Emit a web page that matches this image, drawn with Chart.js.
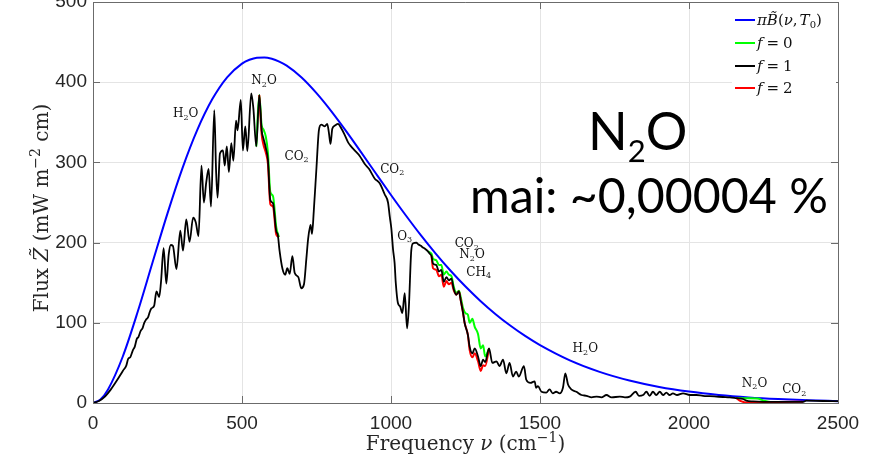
<!DOCTYPE html>
<html><head><meta charset="utf-8">
<script src="https://cdn.jsdelivr.net/npm/chart.js@4.4.1/dist/chart.umd.min.js"></script>
<style>html,body{margin:0;padding:0;background:#fff;overflow:hidden}canvas{display:block}</style>
</head><body>
<canvas id="c" width="872" height="469"></canvas>
<script>
// ---------- data ----------
const xTicks = [0, 500, 1000, 1500, 2000, 2500];
const yTicks = [0, 100, 200, 300, 400, 500];
const seriesNames = ['\u03c0B\u0303(\u03bd,T\u2080)', 'f = 0', 'f = 1', 'f = 2'];

// blue: pi*B(nu,T0)
const planckNu = [0,25,50,100,150,200,250,300,350,400,450,500,525,550,575,600,625,650,700,750,800,850,900,950,1000,1050,1100,1150,1200,1250,1300,1350,1400,1450,1500,1600,1700,1800,1900,2000,2100,2200,2300,2400,2500];
const planckFlux = [0,4.4,16.6,58,113.7,175.4,236.5,292.6,340.5,378.6,406.1,423.2,428.0,430.6,430.9,429.2,425.7,420.6,405.9,386.4,363.7,338.7,312.5,285.8,259.4,233.8,209.3,186.3,164.9,145.2,127.3,111.1,96.6,83.6,72.2,53.2,38.8,28.0,20.0,14.2,10.0,7.0,4.9,3.4,2.3];

// black: f = 1
const f1Nu = [0,20,40,60,80,100,112,118,125,134,140,147,152,160,166,172,178,185,190,196,205,213,222,228,237,246,254,261,268,280,293,302,313,324,336,345,354,364,372,380,388,396,407,413,418,426,436,442,449,456,464,471,480,485,496,503,511,518,531,538,548,558,566,572,580,587,595,604,615,620,626,636,645,652,660,669,677,689,699,708,716,722,730,735,741,750,758,766,778,786,792,797,803,812,822,834,845,856,866,878,895,912,926,945,962,979,990,996,1001,1007,1012,1016,1023,1031,1038,1046,1054,1060,1068,1074,1085,1091,1100,1107,1115,1124,1130,1136,1141,1152,1161,1169,1177,1186,1194,1203,1210,1219,1228,1234,1242,1247,1258,1264,1273,1281,1292,1301,1309,1316,1329,1340,1354,1364,1376,1387,1398,1409,1420,1429,1446,1454,1468,1482,1487,1493,1505,1521,1532,1543,1554,1566,1577,1585,1594,1605,1622,1639,1656,1673,1690,1706,1723,1740,1768,1785,1801,1821,1832,1846,1857,1868,1879,1890,1902,1913,1924,1935,1946,1960,1980,2003,2025,2047,2070,2092,2114,2137,2159,2181,2192,2215,2249,2300,2383,2394,2450,2500];
const f1Flux = [0,2.5,8,17,28,40,47,55,57,66,70,80,82,90,93,100,104,107,113,118,121,139,132,150,193,149,185,197,196,167,215,190,229,201,231,225,208,296,250,275,292,245,365,290,256,311,315,296,320,288,324,302,352,340,378,315,345,314,386,368,320,384,340,330,318,303,253,249,214,210,190,167,160,168,161,183,162,157,143,148,180,205,222,211,240,294,340,347,345,348,336,323,342,346,348,342,334,325,320,315,308,298,292,280,274,260,250,232,218,191,175,150,125,120,112,137,93,120,190,199,200,198,196,194,192,189,186,183,174,172,164,166,151,157,153,155,143,135,139,128,112,100,85,70,62,68,58,46,54,51,68,50,52,46,54,37,50,33,39,33,46,29,25,27,19,21,14,13,17,12,14,12,19,37,23,17,14,10,9,7,8,7,10,7,8,7,8,14,9,10,14,9,14,10,14,10,13,10,12,10,12,10,10,9,8.5,8,7.5,7,6,5,3,2,1.5,1.5,1.5,3,2.5,2.3];

// green: f = 0 (only where it departs from f = 1; null = gap)
const f0Nu = [548,558,566,572,580,587,595,604,615,624, 1090, 1124,1136,1141,1152,1161,1169,1177,1186,1194,1203,1210,1219,1228,1234,1242,1250,1258,1264,1273,1281,1292,1301,1309,1316,1329, 2000, 2159,2181,2200,2230,2250,2270];
const f0Flux = [320,384,346,341,332,312,263,258,219,207, null, 189,186,180,178,172,172,160,164,160,158,146,137,140,132,118,112,110,100,105,95,86,68,72,58,68, null, 6,6,6,5.5,3,1.6];

// red: f = 2
const f2Nu = [558,566,572,580,587,595,604,615,624, 1090, 1136,1141,1152,1161,1169,1177,1186,1194,1203,1210,1219,1228,1234,1242,1247,1258,1264,1273,1281,1292,1301,1309,1316,1329, 2000, 2159,2170,2185,2200,2250,2300,2383];
const f2Flux = [384,335,322,312,298,248,245,210,207, null, 183,168,166,158,160,145,152,148,150,141,135,139,128,112,100,85,66,57,62,52,40,47,46,68, null, 6,3,1,0.5,0.5,1.2,1.5];

// molecule annotations (frequency, flux)
const annText = ['H2O','N2O','CO2','CO2','O3','CO2','N2O','CH4','H2O','N2O','CO2'];
const annNu   = [311, 574, 683, 1004, 1046, 1254, 1272, 1294, 1652, 2220, 2353];
const annFlux = [362, 403, 309, 293, 209, 200, 186, 164, 69, 26, 18];

const bigTitle = 'N2O';
const bigSub = 'mai: ~0,00004 %';

// ---------- helpers ----------
const pts = (xs, ys) => xs.map((x, i) => ({x: x, y: ys[i]}));
const SERIF = '"DejaVu Serif", "Liberation Serif", serif';

function drawParts(ctx, parts, x, y, align) {
  let w = 0;
  parts.forEach(p => { ctx.font = p.f; w += ctx.measureText(p.t).width + (p.gap || 0); });
  let cx = align === 'center' ? x - w / 2 : (align === 'right' ? x - w : x);
  parts.forEach(p => {
    ctx.font = p.f;
    ctx.fillText(p.t, cx, y + (p.dy || 0));
    cx += ctx.measureText(p.t).width + (p.gap || 0);
  });
  return w;
}
function chemParts(s, size, family, subRatio, subDy) {
  return s.split('').map(ch => /[0-9]/.test(ch)
    ? {t: ch, f: Math.round(size * subRatio) + 'px ' + family, dy: size * subDy}
    : {t: ch, f: size + 'px ' + family});
}

const overlay = {
  id: 'overlay',
  afterDraw(chart) {
    const ctx = chart.ctx, a = chart.chartArea;
    const xs = chart.scales.x, ys = chart.scales.y;
    ctx.save();
    ctx.strokeStyle = '#6b6b6b'; ctx.lineWidth = 1;
    ctx.beginPath();
    ctx.moveTo(a.left, a.top + 0.5); ctx.lineTo(a.right + 0.5, a.top + 0.5); ctx.lineTo(a.right + 0.5, a.bottom);
    const tl = 7;
    xTicks.forEach(v => { const p = Math.round(xs.getPixelForValue(v)) + 0.5;
      ctx.moveTo(p, a.bottom); ctx.lineTo(p, a.bottom - tl);
      ctx.moveTo(p, a.top); ctx.lineTo(p, a.top + tl); });
    yTicks.forEach(v => { const p = Math.round(ys.getPixelForValue(v)) + 0.5;
      ctx.moveTo(a.left, p); ctx.lineTo(a.left + tl, p);
      ctx.moveTo(a.right, p); ctx.lineTo(a.right - tl, p); });
    ctx.stroke();

    ctx.fillStyle = '#111';
    ctx.textBaseline = 'alphabetic';
    annText.forEach((s, i) => {
      const px = xs.getPixelForValue(annNu[i]);
      const py = ys.getPixelForValue(annFlux[i]);
      drawParts(ctx, chemParts(s, 12, SERIF, 0.7, 2.5 / 12), px, py + 4.5, 'center');
    });

    const lx0 = 735, lx1 = 755, tx = 757, rowY = [20, 43, 66, 88];
    ctx.fillStyle = '#fff';
    ctx.fillRect(732, 6, 104, 95);
    chart.data.datasets.forEach(ds => {
      const y = rowY[ds.legendRow];
      ctx.strokeStyle = ds.borderColor; ctx.lineWidth = 2;
      ctx.beginPath(); ctx.moveTo(lx0, y); ctx.lineTo(lx1, y); ctx.stroke();
    });
    ctx.fillStyle = '#111';
    const it = 'italic 15px ' + SERIF, rm = '15px ' + SERIF;
    drawParts(ctx, [{t:'\u03c0', f: it}, {t:'B\u0303', f: it}, {t:'(', f: rm}, {t:'\u03bd', f: it}, {t:',', f: rm, gap: 2},
                    {t:'T', f: it}, {t:'0', f: '10px ' + SERIF, dy: 3}, {t:')', f: rm}], tx, rowY[0] + 5, 'left');
    ['0', '1', '2'].forEach((d, k) => {
      drawParts(ctx, [{t:'f', f: it, gap: 4}, {t:'=', f: rm, gap: 4}, {t: d, f: rm}], tx, rowY[k + 1] + 5, 'left');
    });

    ctx.fillStyle = '#262626';
    const tf = '20px ' + SERIF, tfi = 'italic 20px ' + SERIF, tfs = '14px ' + SERIF;
    drawParts(ctx, [{t:'Frequency ', f: tf}, {t:'\u03bd', f: tfi}, {t:' (cm', f: tf}, {t:'\u22121', f: tfs, dy: -8}, {t:')', f: tf}],
      (a.left + a.right) / 2, 450, 'center');
    ctx.save();
    ctx.translate(48, 208); ctx.rotate(-Math.PI / 2);
    drawParts(ctx, [{t:'Flux ', f: tf}, {t:'Z\u0303', f: tfi}, {t:' (mW m', f: tf}, {t:'\u22122', f: tfs, dy: -8}, {t:' cm)', f: tf}],
      0, 0, 'center');
    ctx.restore();

    ctx.fillStyle = '#000';
    drawParts(ctx, chemParts(bigTitle, 52, 'Lato, "Open Sans", sans-serif', 0.6, 12 / 52), 588, 150, 'left');
    let fs = 50;
    ctx.font = fs + 'px Lato, "Open Sans", sans-serif';
    fs = fs * 358 / ctx.measureText(bigSub).width;
    ctx.font = fs.toFixed(1) + 'px Lato, "Open Sans", sans-serif';
    ctx.fillText(bigSub, 470, 213);
    ctx.restore();
  }
};

const tickFont = {family: '"Liberation Sans", Arial, sans-serif', size: 19};
new Chart(document.getElementById('c'), {
  type: 'line',
  data: {
    datasets: [
      {label: seriesNames[2], data: pts(f1Nu, f1Flux), borderColor: '#000000', borderWidth: 1.8, order: 0, legendRow: 2},
      {label: seriesNames[3], data: pts(f2Nu, f2Flux), borderColor: '#ff0000', borderWidth: 2, order: 1, legendRow: 3},
      {label: seriesNames[1], data: pts(f0Nu, f0Flux), borderColor: '#00ff00', borderWidth: 2, order: 2, legendRow: 1},
      {label: seriesNames[0], data: pts(planckNu, planckFlux), borderColor: '#0000ff', borderWidth: 2, order: 3, legendRow: 0}
    ]
  },
  options: {
    responsive: false,
    animation: false,
    devicePixelRatio: 1,
    spanGaps: false,
    layout: {padding: {left: 0, top: 2, right: 34, bottom: 0}},
    elements: {point: {radius: 0}, line: {cubicInterpolationMode: 'monotone', fill: false}},
    plugins: {legend: {display: false}, tooltip: {enabled: false}},
    scales: {
      x: {
        type: 'linear', min: 0, max: 2500,
        afterBuildTicks: s => { s.ticks = xTicks.map(v => ({value: v})); },
        afterFit: s => { s.height = 66; s.paddingLeft = 0; s.paddingRight = 0; },
        grid: {color: '#e4e4e4', drawTicks: false},
        border: {display: true, color: '#6b6b6b', width: 1},
        ticks: {font: tickFont, color: '#262626', padding: 9, maxRotation: 0, callback: v => String(v)}
      },
      y: {
        type: 'linear', min: 0, max: 500,
        afterBuildTicks: s => { s.ticks = yTicks.map(v => ({value: v})); },
        afterFit: s => { s.width = 93; s.paddingTop = 0; s.paddingBottom = 0; },
        grid: {color: '#e4e4e4', drawTicks: false},
        border: {display: true, color: '#6b6b6b', width: 1},
        ticks: {font: tickFont, color: '#262626', padding: 6, callback: v => String(v)}
      }
    }
  },
  plugins: [overlay]
});
</script>
</body></html>
